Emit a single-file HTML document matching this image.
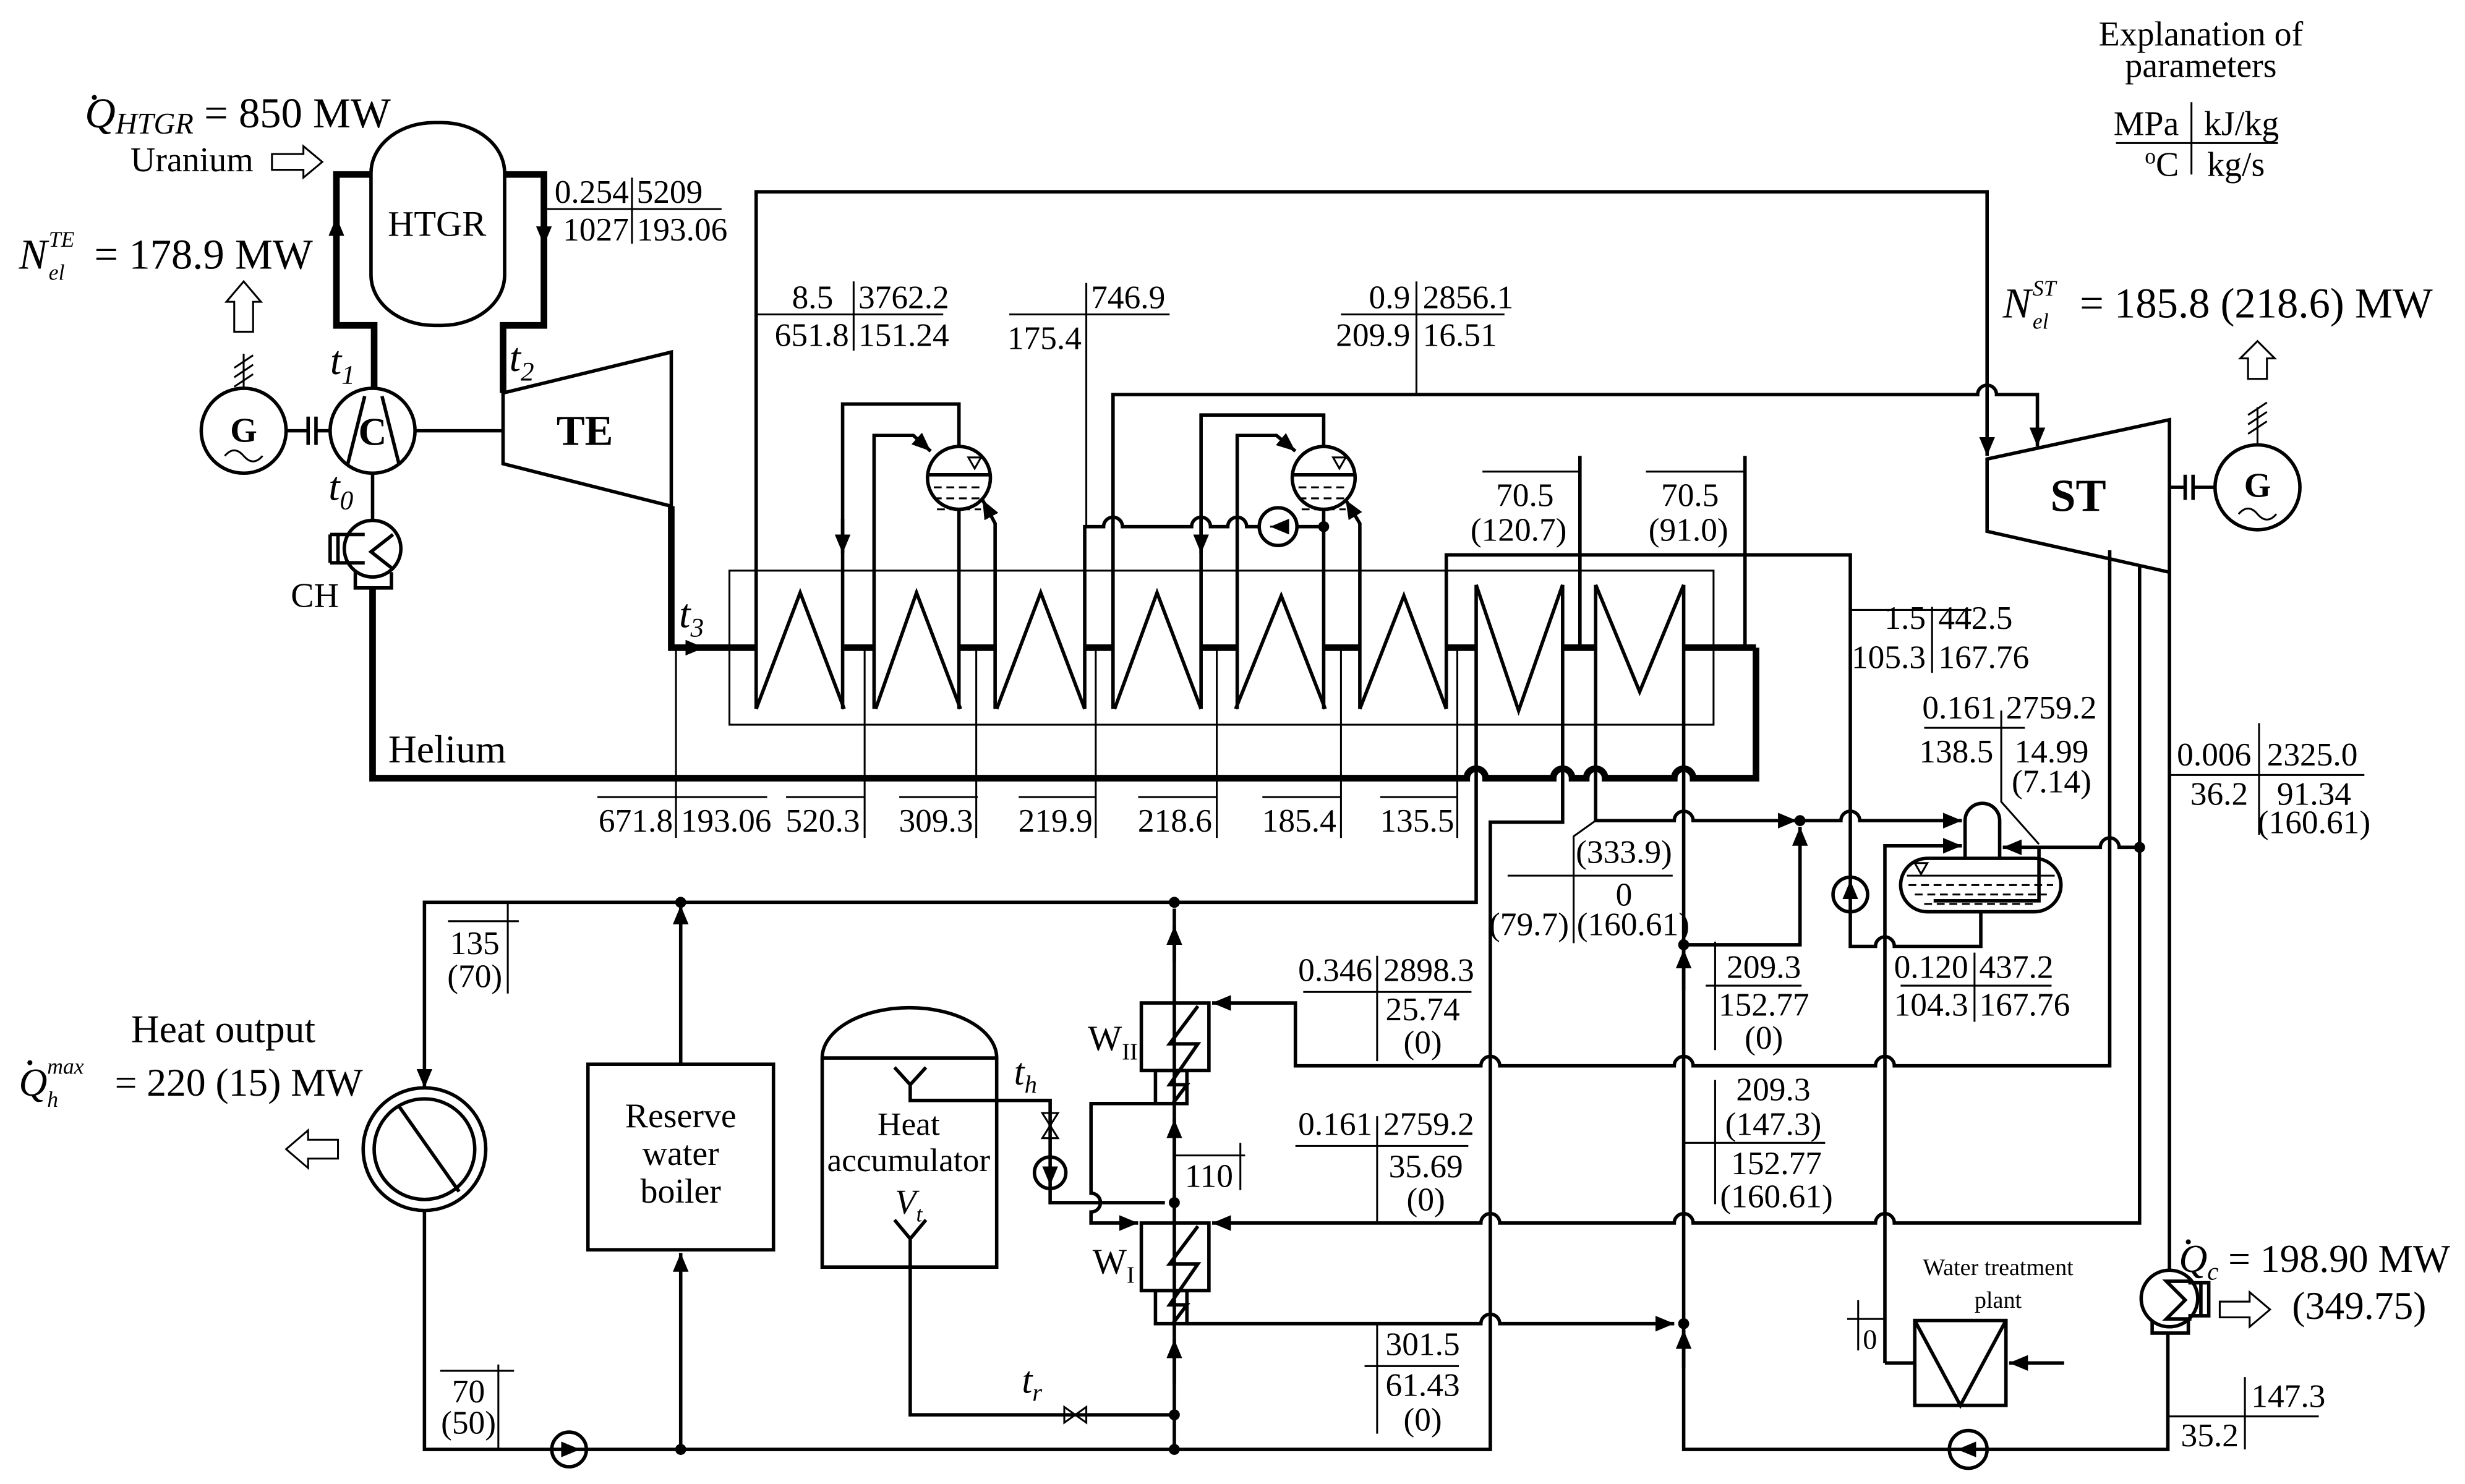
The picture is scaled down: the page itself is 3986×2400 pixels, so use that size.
<!DOCTYPE html>
<html><head><meta charset="utf-8"><style>
html,body{margin:0;padding:0;background:#fff}
svg{display:block}
text{font-family:"Liberation Serif",serif;fill:#000}
.p{font-size:21px}
.b{font-size:27px}
.e{text-anchor:end}.m{text-anchor:middle}
.n{fill:none;stroke:#000;stroke-width:2.2}
.t{fill:none;stroke:#000;stroke-width:1.2}
.k{fill:none;stroke:#000;stroke-width:4.2}
.i{font-style:italic}
</style></head><body>
<svg width="3986" height="2400" viewBox="0 0 1568 944" preserveAspectRatio="none" xmlns="http://www.w3.org/2000/svg">
<defs>
<marker id="a" markerUnits="userSpaceOnUse" markerWidth="12" markerHeight="10" refX="12" refY="5" orient="auto"><path d="M0,0 L12,5 L0,10 z" fill="#000"/></marker>
</defs>
<rect width="1568" height="944" fill="#fff"/>

<!-- top-left texts -->
<text x="54" y="81" class="b"><tspan font-style="italic">Q</tspan><tspan font-style="italic" font-size="19" dy="4">HTGR</tspan><tspan dy="-4"> = 850 MW</tspan></text>
<circle cx="60" cy="62" r="1.6"/>
<text x="83" y="109" style="font-size:22px">Uranium</text>
<polygon points="173,98 193,98 193,93 205,103 193,113 193,108 173,108" class="t" fill="#fff" stroke-width="1.6"/>
<text x="12" y="171" class="b i">N</text>
<text x="31" y="157" class="i" style="font-size:14px">TE</text>
<text x="31" y="178" class="i" style="font-size:14px">el</text>
<text x="60" y="171" class="b">= 178.9 MW</text>

<!-- HTGR loop -->
<rect x="236" y="78" width="85" height="129" rx="40" ry="32" class="n"/>
<text x="278" y="150" class="m" style="font-size:23px">HTGR</text>
<path d="M236,111 H214 V207 H238 V247" class="k"/>
<path d="M214,160 V138" class="n" marker-end="url(#a)"/>
<path d="M321,111 H346 V207 H320 V250" class="k"/>
<path d="M346,130 V156" class="n" marker-end="url(#a)"/>
<path d="M346,133 H459 M402,113 V155" class="t"/>
<text x="400" y="129" class="p e">0.254</text><text x="405" y="129" class="p">5209</text>
<text x="400" y="153" class="p e">1027</text><text x="405" y="153" class="p">193.06</text>

<!-- generator + compressor -->
<polygon points="149,211 149,192 144,192 155,179 166,192 161,192 161,211" class="t" fill="#fff" stroke-width="1.6"/>
<path d="M155,247 V225 M149,240 L161,232 M149,234 L161,226 M149,246 L161,238" class="t" stroke-width="1.6"/>
<circle cx="155" cy="274" r="27" class="n"/>
<text x="155" y="281" class="m" style="font-size:22px;font-weight:bold">G</text>
<path d="M143,290 q6,-7 12,0 t12,0" class="t" stroke-width="1.6"/>
<path d="M182,274 H196 M201,274 H210 M196,265 V283 M201,265 V283" class="n"/>
<circle cx="237" cy="274" r="27" class="n"/>
<path d="M221,296 L232,252 M254,296 L243,252" class="n"/>
<text x="237" y="283" class="m" style="font-size:25px;font-weight:bold">C</text>
<path d="M264,274 H320" class="n"/>
<polygon points="320,250 427,224 427,322 320,295" class="n"/>
<text x="372" y="283" class="m" style="font-size:27px;font-weight:bold">TE</text>
<text x="210" y="238" style="font-size:26px;font-style:italic">t<tspan font-size="17" dy="6">1</tspan></text>
<text x="324" y="236" style="font-size:26px;font-style:italic">t<tspan font-size="17" dy="6">2</tspan></text>
<text x="209" y="318" style="font-size:26px;font-style:italic">t<tspan font-size="17" dy="6">0</tspan></text>
<text x="432" y="399" style="font-size:26px;font-style:italic">t<tspan font-size="17" dy="6">3</tspan></text>
<path d="M237,301 V331" class="n"/>
<circle cx="237" cy="349" r="18" class="n"/>
<path d="M250,340 L236,351 L250,362" class="n"/>
<path d="M210,340 H232 M210,358 H232 M210,340 V358 M215,340 V358" class="n"/>
<path d="M226,364 V374 H249 V364" class="n"/>
<text x="185" y="386" style="font-size:22px">CH</text>

<!-- helium loop -->
<path d="M237,374 V495 H933 A6,6 0 0 1 945,495 H988 A6,6 0 0 1 1000,495 H1009 A6,6 0 0 1 1021,495 H1065 A6,6 0 0 1 1077,495 H1117 V412" class="k"/>
<path d="M427,322 V412 H481" class="k"/>
<path d="M430,412 H448" class="n" marker-end="url(#a)"/>
<path d="M537,412 H557 M611,412 H634 M690,412 H709 M764,412 H786 M843,412 H865 M920,412 H939 M994,412 H1015 M1071,412 H1117" class="k"/>
<text x="247" y="485" style="font-size:25px">Helium</text>

<!-- heat exchanger -->
<rect x="464" y="363" width="626" height="98" class="t" stroke-width="1.6"/>
<path d="M481,451 L509,377 L537,451 M557,451 L583,377 L611,451 M634,451 L662,377 L690,451 M709,451 L736,377 L764,451 M786,451 L815,379 L843,451 M865,451 L893,379 L920,451 M939,372 L966,452 L994,372 M1015,372 L1043,440 L1071,372" class="n"/>
<path d="M430,412 V533 M550,412 V533 M621,412 V533 M697,412 V533 M774,412 V533 M853,412 V533 M927,412 V533" class="t"/>
<path d="M380,507 H488 M500,507 H550 M572,507 H622 M648,507 H697 M724,507 H774 M803,507 H853 M878,507 H927" class="t"/>
<text x="428" y="529" class="p e">671.8</text><text x="433" y="529" class="p">193.06</text>
<text x="547" y="529" class="p e">520.3</text><text x="619" y="529" class="p e">309.3</text>
<text x="695" y="529" class="p e">219.9</text><text x="771" y="529" class="p e">218.6</text>
<text x="850" y="529" class="p e">185.4</text><text x="925" y="529" class="p e">135.5</text>

<!-- top rails -->
<path d="M481,451 V122 H1264 V290" class="n" marker-end="url(#a)"/>
<path d="M708,451 V251 H1258 A6,6 0 0 1 1270,251 H1296 V284" class="n" marker-end="url(#a)"/>
<path d="M481,200 H600 M543,179 V223" class="t"/>
<text x="530" y="196" class="p e">8.5</text><text x="546" y="196" class="p">3762.2</text>
<text x="540" y="220" class="p e">651.8</text><text x="546" y="220" class="p">151.24</text>
<path d="M642,200 H744 M691,180 V335" class="t"/>
<text x="694" y="196" class="p">746.9</text><text x="688" y="222" class="p e">175.4</text>
<path d="M853,200 H957 M901,179 V251" class="t"/>
<text x="897" y="196" class="p e">0.9</text><text x="905" y="196" class="p">2856.1</text>
<text x="897" y="220" class="p e">209.9</text><text x="905" y="220" class="p">16.51</text>

<!-- drum 1 -->
<circle cx="610" cy="304" r="20" class="n"/>
<path d="M590,302 H630" class="n"/>
<path d="M594,310 H626 M594,317 H626 M596,324 H624" class="t" stroke-dasharray="5,3" stroke-width="1.8"/>
<polygon points="616,291 624,291 620,298" class="t" stroke-width="0.8"/>
<path d="M536,451 V257 H610 V284" class="n"/>
<path d="M536,330 V352" class="n" marker-end="url(#a)"/>
<path d="M556,451 V277 H581 L592,287" class="n" marker-end="url(#a)"/>
<path d="M610,324 V451" class="n"/>
<path d="M633,451 V333 L625,318" class="n" marker-end="url(#a)"/>
<!-- drum 2 -->
<circle cx="842" cy="304" r="20" class="n"/>
<path d="M822,302 H862" class="n"/>
<path d="M826,310 H858 M826,317 H858 M828,324 H856" class="t" stroke-dasharray="5,3" stroke-width="1.8"/>
<polygon points="848,291 856,291 852,298" class="t" stroke-width="0.8"/>
<path d="M764,451 V264 H842 V284" class="n"/>
<path d="M764,330 V352" class="n" marker-end="url(#a)"/>
<path d="M787,451 V277 H812 L824,287" class="n" marker-end="url(#a)"/>
<path d="M842,324 V451" class="n"/>
<path d="M865,451 V333 L856,318" class="n" marker-end="url(#a)"/>
<path d="M690,451 V335 H702 A6,6 0 0 1 714,335 H758 A6,6 0 0 1 770,335 H781 A6,6 0 0 1 793,335 H801 M825,335 H842" class="n"/>
<circle cx="813" cy="335" r="12" class="n"/>
<path d="M820,335 H808" class="t" marker-end="url(#a)"/>
<circle cx="842" cy="335" r="3.5"/>

<!-- 70.5 lines -->
<path d="M1005,290 V412 M1110,290 V412" class="n"/>
<path d="M943,300 H1005 M1047,300 H1110" class="t"/>
<text x="970" y="322" class="p m">70.5</text><text x="966" y="344" class="p m">(120.7)</text>
<text x="1075" y="322" class="p m">70.5</text><text x="1074" y="344" class="p m">(91.0)</text>

<path d="M920,451 V353 H1177 V602 H1193 A6,6 0 0 1 1205,602 H1260 V580" class="n"/>
<circle cx="1177" cy="569" r="11" class="n" fill="#fff"/>
<path d="M1177,578 V560" class="t" marker-end="url(#a)"/>
<path d="M1177,388 H1254 M1229,386 V428" class="t"/>
<text x="1225" y="400" class="p e">1.5</text><text x="1233" y="400" class="p">442.5</text>
<text x="1225" y="425" class="p e">105.3</text><text x="1233" y="425" class="p">167.76</text>

<!-- ST -->
<polygon points="1264,292 1380,267 1380,364 1264,338" class="n"/>
<text x="1322" y="325" class="m" style="font-size:29px;font-weight:bold">ST</text>
<path d="M1380,310 H1390 M1390,302 V318 M1395,302 V318 M1395,310 H1409" class="n"/>
<circle cx="1436" cy="310" r="27" class="n"/>
<text x="1436" y="316" class="m" style="font-size:22px;font-weight:bold">G</text>
<path d="M1424,327 q6,-7 12,0 t12,0" class="t" stroke-width="1.6"/>
<path d="M1436,283 V259 M1430,276 L1442,268 M1430,270 L1442,262 M1430,264 L1442,256" class="t" stroke-width="1.6"/>
<polygon points="1430,241 1430,228 1425,228 1436,217 1447,228 1442,228 1442,241" class="t" fill="#fff" stroke-width="1.6"/>
<text x="1274" y="202" class="b i">N</text>
<text x="1293" y="188" class="i" style="font-size:14px">ST</text>
<text x="1293" y="209" class="i" style="font-size:14px">el</text>
<text x="1323" y="202" class="b">= 185.8 (218.6) MW</text>

<!-- explanation -->
<text x="1400" y="29" class="m" style="font-size:22px">Explanation of</text>
<text x="1400" y="49" class="m" style="font-size:22px">parameters</text>
<text x="1386" y="86" class="e" style="font-size:22px">MPa</text><text x="1402" y="86" style="font-size:22px">kJ/kg</text>
<text x="1386" y="112" class="e" style="font-size:22px"><tspan font-size="14" dy="-8">o</tspan><tspan dy="8">C</tspan></text><text x="1404" y="112" style="font-size:22px">kg/s</text>
<path d="M1346,91 H1449 M1394,65 V111" class="t" stroke-width="1.4"/>

<!-- lines from ST down -->
<path d="M1380,364 V808" class="n"/>
<path d="M1342,350 V678 H1205 A6,6 0 0 0 1193,678 H1077 A6,6 0 0 0 1065,678 H954 A6,6 0 0 0 942,678 H824 V638 H771" class="n" marker-end="url(#a)"/>
<path d="M1361,360 V778 H1205 A6,6 0 0 0 1193,778 H1077 A6,6 0 0 0 1065,778 H954 A6,6 0 0 0 942,778 H771" class="n" marker-end="url(#a)"/>
<path d="M1361,539 H1348 A6,6 0 0 0 1336,539 H1274" class="n" marker-end="url(#a)"/>
<circle cx="1361" cy="539" r="3.5"/>
<path d="M1224,463 H1288 M1273,452 V510 L1297,537" class="t"/>
<text x="1270" y="457" class="p e">0.161</text><text x="1276" y="457" class="p">2759.2</text>
<text x="1268" y="485" class="p e">138.5</text><text x="1305" y="485" class="p m">14.99</text><text x="1305" y="504" class="p m">(7.14)</text>
<path d="M1380,493 H1504 M1437,460 V531" class="t"/>
<text x="1432" y="487" class="p e">0.006</text><text x="1442" y="487" class="p">2325.0</text>
<text x="1430" y="512" class="p e">36.2</text><text x="1472" y="512" class="p m">91.34</text><text x="1472" y="530" class="p m">(160.61)</text>

<!-- deaerator -->
<path d="M1250,546 V522 A11,11 0 0 1 1272,522 V546" class="n"/>
<rect x="1209" y="546" width="102" height="34" rx="17" class="n"/>
<path d="M1213,557 H1307" class="t"/>
<path d="M1214,563 H1306 M1218,569 H1302 M1224,575 H1296" class="t" stroke-dasharray="5,3" stroke-width="1.6"/>
<polygon points="1218,549 1226,549 1222,556" class="t" stroke-width="0.8"/>
<path d="M1297,539 V573 H1230" class="n"/>
<path d="M1199,867 V538 H1248" class="n" marker-end="url(#a)"/>

<!-- lines from HX bottom zone -->
<path d="M939,372 V574 H270 V692" class="n" marker-end="url(#a)"/>
<circle cx="433" cy="574" r="3.5"/><circle cx="747" cy="574" r="3.5"/>
<path d="M994,372 V523 H948 V922 H270 V770" class="n"/>
<path d="M1015,372 V522 H1065 A6,6 0 0 1 1077,522 H1143" class="n" marker-end="url(#a)"/>
<path d="M1145,522 H1171 A6,6 0 0 1 1183,522 H1248" class="n" marker-end="url(#a)"/>
<circle cx="1145" cy="522" r="3.5"/>
<path d="M1015,522 L1001,532 V600" class="t"/>
<path d="M959,557 H1064" class="t"/>
<text x="1033" y="549" class="p m">(333.9)</text><text x="1033" y="576" class="p m">0</text>
<text x="998" y="595" class="p e">(79.7)</text><text x="1003" y="595" class="p">(160.61)</text>
<path d="M1071,372 V922 H1379 V848" class="n"/>
<path d="M1071,630 V604" class="n" marker-end="url(#a)"/>
<path d="M1071,870 V846" class="n" marker-end="url(#a)"/>
<circle cx="1071" cy="601" r="3.5"/><circle cx="1071" cy="842" r="3.5"/>
<path d="M1071,601 H1145 V526" class="n" marker-end="url(#a)"/>
<circle cx="1252" cy="922" r="12" class="n" fill="#fff"/>
<path d="M1259,922 H1245" class="t" marker-end="url(#a)"/>

<path d="M1085,627 H1146 M1091,599 V668" class="t"/>
<text x="1122" y="622" class="p m">209.3</text><text x="1122" y="646" class="p m">152.77</text><text x="1122" y="667" class="p m">(0)</text>
<path d="M1209,627 H1305 M1256,606 V650" class="t"/>
<text x="1252" y="622" class="p e">0.120</text><text x="1259" y="622" class="p">437.2</text>
<text x="1252" y="646" class="p e">104.3</text><text x="1259" y="646" class="p">167.76</text>
<path d="M1071,727 H1161 M1091,687 V766" class="t"/>
<text x="1128" y="700" class="p m">209.3</text><text x="1128" y="722" class="p m">(147.3)</text>
<text x="1130" y="747" class="p m">152.77</text><text x="1130" y="768" class="p m">(160.61)</text>
<path d="M829,631 H936 M876,608 V675" class="t"/>
<text x="873" y="624" class="p e">0.346</text><text x="880" y="624" class="p">2898.3</text>
<text x="905" y="649" class="p m">25.74</text><text x="905" y="670" class="p m">(0)</text>
<path d="M824,729 H934 M876,710 V778" class="t"/>
<text x="873" y="722" class="p e">0.161</text><text x="880" y="722" class="p">2759.2</text>
<text x="907" y="749" class="p m">35.69</text><text x="907" y="770" class="p m">(0)</text>
<path d="M868,869 H928 M876,842 V912" class="t"/>
<text x="905" y="862" class="p m">301.5</text><text x="905" y="888" class="p m">61.43</text><text x="905" y="910" class="p m">(0)</text>

<!-- W heaters -->
<path d="M747,922 V578" class="n"/>
<path d="M747,612 V589" class="n" marker-end="url(#a)"/>
<path d="M747,738 V712" class="n" marker-end="url(#a)"/>
<path d="M747,880 V852" class="n" marker-end="url(#a)"/>
<rect x="726" y="638" width="43" height="43" class="n" fill="#fff"/>
<rect x="735" y="681" width="20" height="21" class="n" fill="#fff"/>
<path d="M762,640 L744,664 L762,664 L744,690 L755,690 L746,702" class="n"/>
<rect x="726" y="778" width="43" height="43" class="n" fill="#fff"/>
<rect x="735" y="821" width="20" height="21" class="n" fill="#fff"/>
<path d="M762,780 L744,804 L762,804 L744,830 L755,830 L746,842" class="n"/>
<text x="692" y="668" style="font-size:23px">W<tspan font-size="15" dy="6">II</tspan></text>
<text x="695" y="810" style="font-size:23px">W<tspan font-size="15" dy="6">I</tspan></text>
<path d="M735,702 H694 V759 A6,6 0 0 1 694,771 V778 H724" class="n" marker-end="url(#a)"/>
<path d="M755,842 H942 A6,6 0 0 1 954,842 H1065" class="n" marker-end="url(#a)"/>
<path d="M748,735 H792 M789,727 V757" class="t"/>
<text x="769" y="755" class="p m">110</text>

<!-- heat accumulator -->
<path d="M523,806 V673 A55.5,32 0 0 1 634,673 V806 Z M523,673 H634" class="n"/>
<text x="578" y="722" class="m" style="font-size:21px">Heat</text>
<text x="578" y="745" class="m" style="font-size:21px">accumulator</text>
<text x="578" y="772" class="m" style="font-size:22px;font-style:italic">V<tspan font-size="14" dy="5">t</tspan></text>
<path d="M569,679 L579,690 L589,679 M579,690 V700 H668 V765 H741" class="n"/>
<circle cx="747" cy="765" r="3.5"/>
<path d="M663,708 L673,708 L663,724 L673,724 Z" class="t" fill="#fff" stroke-width="1.5"/>
<circle cx="668" cy="746" r="10" class="n" fill="#fff"/>
<path d="M668,739 V754" class="t" marker-end="url(#a)"/>
<text x="645" y="690" style="font-size:24px;font-style:italic">t<tspan font-size="16" dy="5">h</tspan></text>
<path d="M569,776 L579,788 L589,776 M579,788 V900 H747" class="n"/>
<path d="M677,895 L677,905 L691,895 L691,905 Z" class="t" fill="#fff" stroke-width="1.5"/>
<circle cx="747" cy="900" r="3.5"/>
<text x="650" y="886" style="font-size:24px;font-style:italic">t<tspan font-size="16" dy="5">r</tspan></text>

<!-- reserve boiler -->
<rect x="374" y="677" width="118" height="118" class="n"/>
<text x="433" y="717" class="m" style="font-size:22px">Reserve</text>
<text x="433" y="741" class="m" style="font-size:22px">water</text>
<text x="433" y="765" class="m" style="font-size:22px">boiler</text>
<path d="M433,922 V797" class="n" marker-end="url(#a)"/>
<path d="M433,677 V576" class="n" marker-end="url(#a)"/>
<circle cx="433" cy="922" r="3.5"/><circle cx="747" cy="922" r="3.5"/>
<circle cx="362" cy="922" r="11" class="n" fill="#fff"/>
<path d="M356,922 H369" class="t" marker-end="url(#a)"/>

<!-- heat output -->
<circle cx="270" cy="731" r="39" class="n"/>
<circle cx="270" cy="731" r="32" class="n"/>
<path d="M254,704 L292,758" class="n"/>
<polygon points="215,725 196,725 196,719 182,731 196,743 196,737 215,737" class="t" fill="#fff" stroke-width="1.6"/>
<text x="142" y="663" class="m" style="font-size:25px">Heat output</text>
<text x="12" y="697" class="i" style="font-size:25px">Q</text>
<circle cx="19" cy="676" r="1.6"/>
<text x="30" y="683" class="i" style="font-size:14px">max</text>
<text x="30" y="704" class="i" style="font-size:14px">h</text>
<text x="73" y="697" style="font-size:25px">= 220 (15) MW</text>
<path d="M285,586 H330 M323,574 V632" class="t"/>
<text x="302" y="607" class="p m">135</text><text x="302" y="628" class="p m">(70)</text>
<path d="M280,872 H327 M317,868 V922" class="t"/>
<text x="298" y="892" class="p m">70</text><text x="298" y="912" class="p m">(50)</text>

<!-- water treatment -->
<rect x="1218" y="840" width="58" height="54" class="n"/>
<path d="M1218,840 L1247,894 L1276,840" class="n"/>
<path d="M1199,867 H1218" class="n"/>
<path d="M1313,867 H1278" class="n" marker-end="url(#a)"/>
<text x="1271" y="811" class="m" style="font-size:15px">Water treatment</text>
<text x="1271" y="832" class="m" style="font-size:15px">plant</text>
<path d="M1182,827 V859 M1175,839 H1199" class="t"/>
<text x="1185" y="858" style="font-size:18px">0</text>

<!-- condenser -->
<circle cx="1380" cy="826" r="18" class="n"/>
<path d="M1394,815 L1378,815 L1390,827 L1378,839 L1394,839" class="n"/>
<path d="M1392,816 H1405 V837 H1392 M1400,816 V837" class="n"/>
<path d="M1369,840 V848 H1392 V840" class="n"/>
<polygon points="1412,828 1431,828 1431,822 1444,833 1431,844 1431,838 1412,838" class="t" fill="#fff" stroke-width="1.6"/>
<text x="1386" y="809" style="font-size:25px"><tspan font-style="italic">Q</tspan><tspan font-style="italic" font-size="16" dy="5">c</tspan><tspan dy="-5"> = 198.90 MW</tspan></text>
<circle cx="1392" cy="790" r="1.6"/>
<text x="1458" y="839" style="font-size:25px">(349.75)</text>
<path d="M1380,901 H1475 M1428,876 V922" class="t"/>
<text x="1432" y="895" class="p">147.3</text><text x="1424" y="920" class="p e">35.2</text>
</svg>
</body></html>
